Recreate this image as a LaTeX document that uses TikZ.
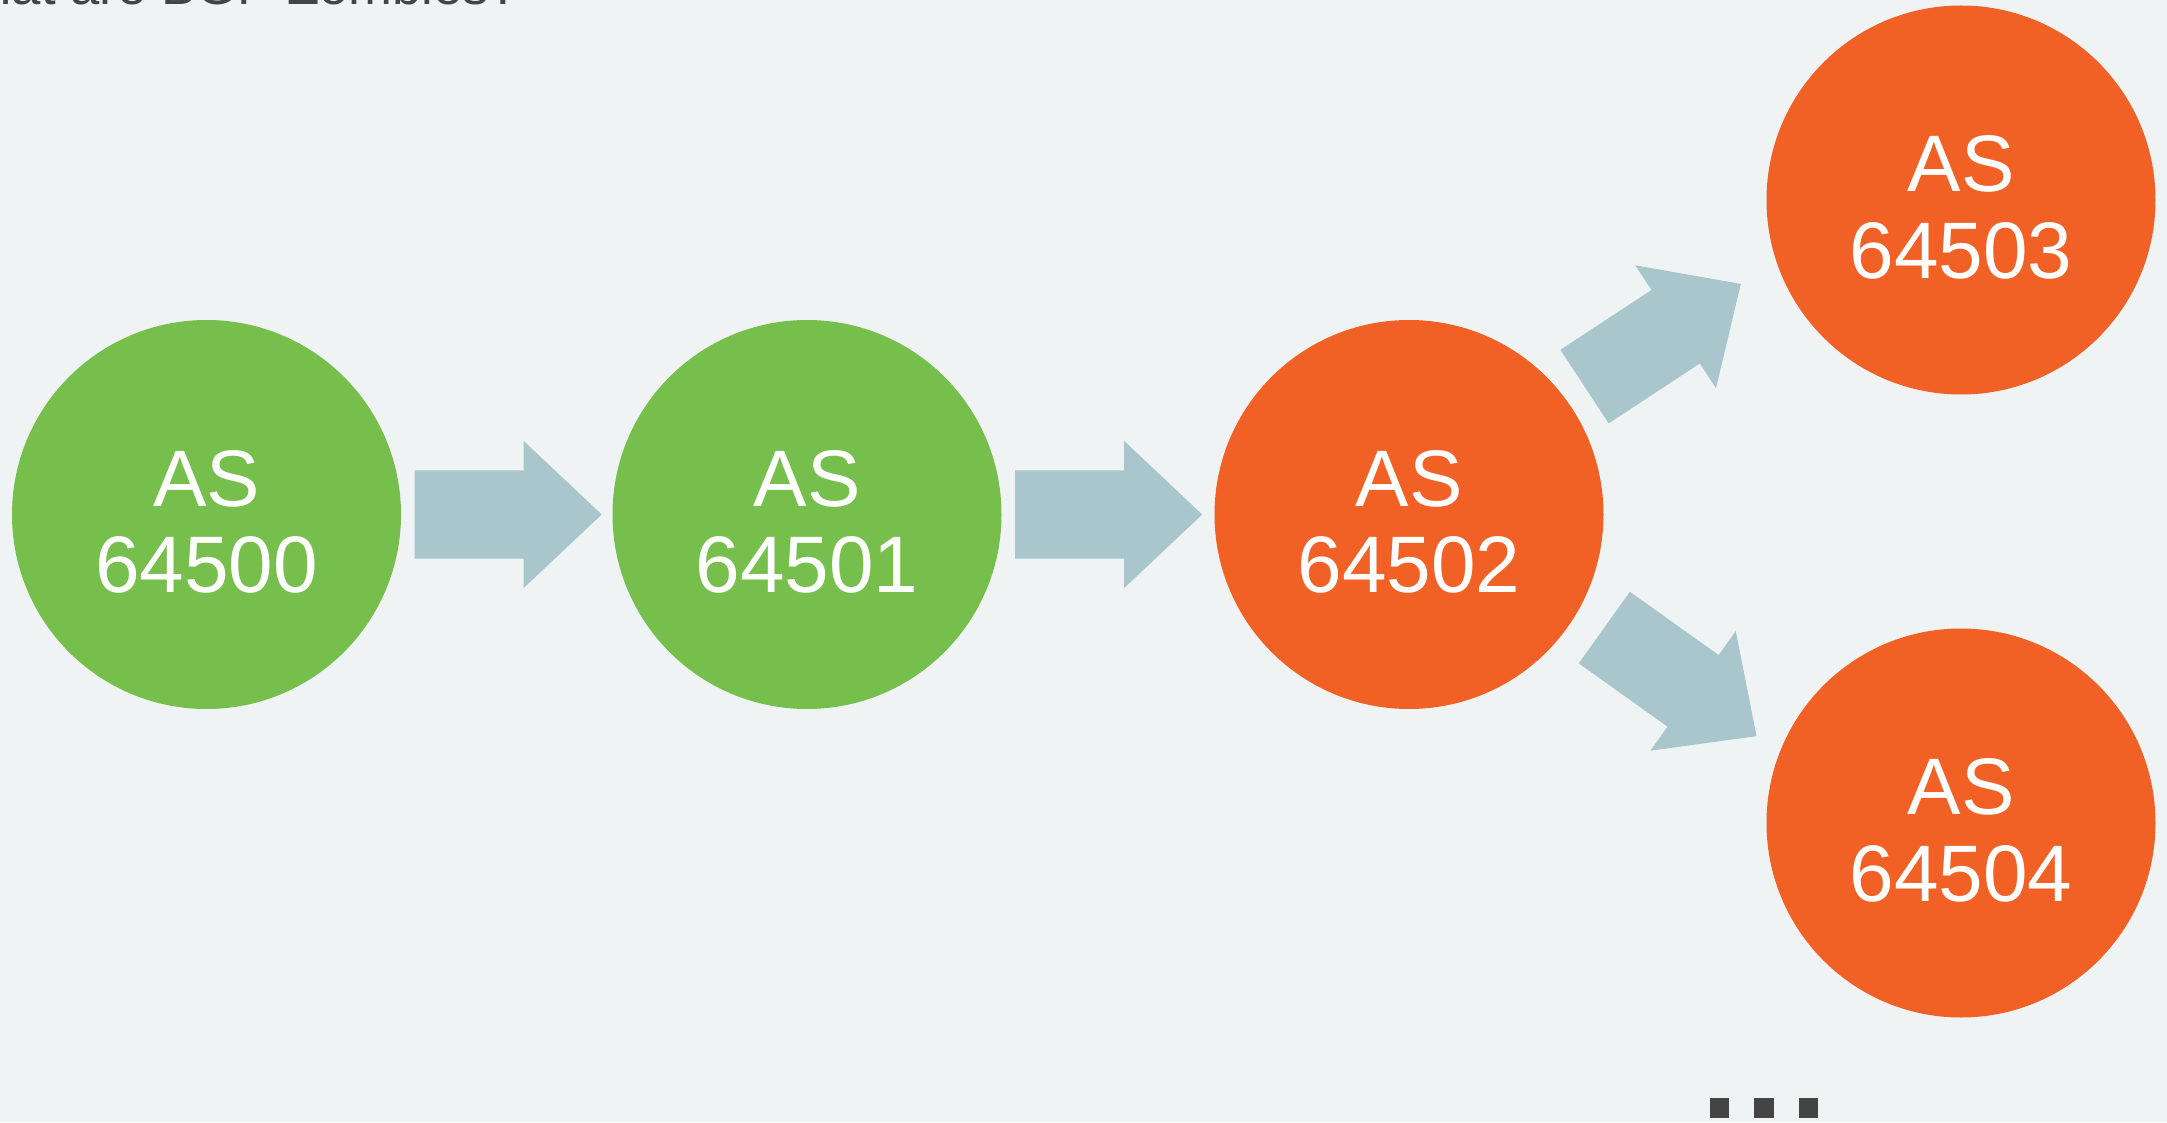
\documentclass[tikz,border=0pt]{standalone}
\usepackage{fontspec}
\setmainfont{Liberation Sans}

\definecolor{bggray}{HTML}{EFF3F4}
\definecolor{asgreen}{HTML}{76BF4C}
\definecolor{asorange}{HTML}{F16024}
\definecolor{arrowblue}{HTML}{A9C6CC}
\definecolor{darkgray}{HTML}{444444}

\tikzset{
    asnode/.style={circle, minimum size=3.89cm, inner sep=0pt},
    astext/.style={text=white, align=center, inner sep=0pt, yshift=-0.075cm,
        font=\fontsize{22.8}{24.7}\selectfont},
    blockarrow/.pic={
        \fill[arrowblue] (0,-0.44) -- (1.09,-0.44) -- (1.09,-0.735) -- (1.87,0)
            -- (1.09,0.735) -- (1.09,0.44) -- (0,0.44) -- cycle;
    },
    sqdot/.style={rectangle, fill=darkgray, minimum size=0.196cm, inner sep=0pt}
}

\begin{document}
\begin{tikzpicture}
    % background and frame
    \fill[bggray] (0,0) rectangle (21.67,11.22);
    \useasboundingbox (0,0) rectangle (21.67,11.22);
    \clip (0,0) rectangle (21.67,11.22);

    % title, cut off at the top edge
    \node[anchor=base west, inner sep=0pt, text=darkgray,
        font=\fontsize{15}{18}\selectfont] (title) at (-0.68,11.17) {What are BGP Zombies?};

    % the autonomous systems
    \node[asnode, fill=asgreen, label={[astext]center:AS\\64500}] (as64500) at (2.065,6.075) {};
    \node[asnode, fill=asgreen, label={[astext]center:AS\\64501}] (as64501) at (8.07,6.075) {};
    \node[asnode, fill=asorange, label={[astext]center:AS\\64502}] (as64502) at (14.09,6.075) {};
    \node[asnode, fill=asorange, label={[astext]center:AS\\64503}] (as64503) at (19.61,9.22) {};
    \node[asnode, fill=asorange, label={[astext]center:AS\\64504}] (as64504) at (19.61,2.99) {};

    % the announcements
    \path (as64500.east) ++(0.13,0) pic {blockarrow};
    \path (as64501.east) ++(0.13,0) pic {blockarrow};
    \path (as64502.36.8) ++(36.8:0.22) pic[rotate=33.3] {blockarrow};
    \path (as64502.-30.5) ++(-30.5:0.305) pic[rotate=-35.5] {blockarrow};

    % more to come
    \foreach \i/\x in {1/17.195, 2/17.64, 3/18.085} {
        \node[sqdot] (dot\i) at (\x,0.14) {};
    }
\end{tikzpicture}
\end{document}
